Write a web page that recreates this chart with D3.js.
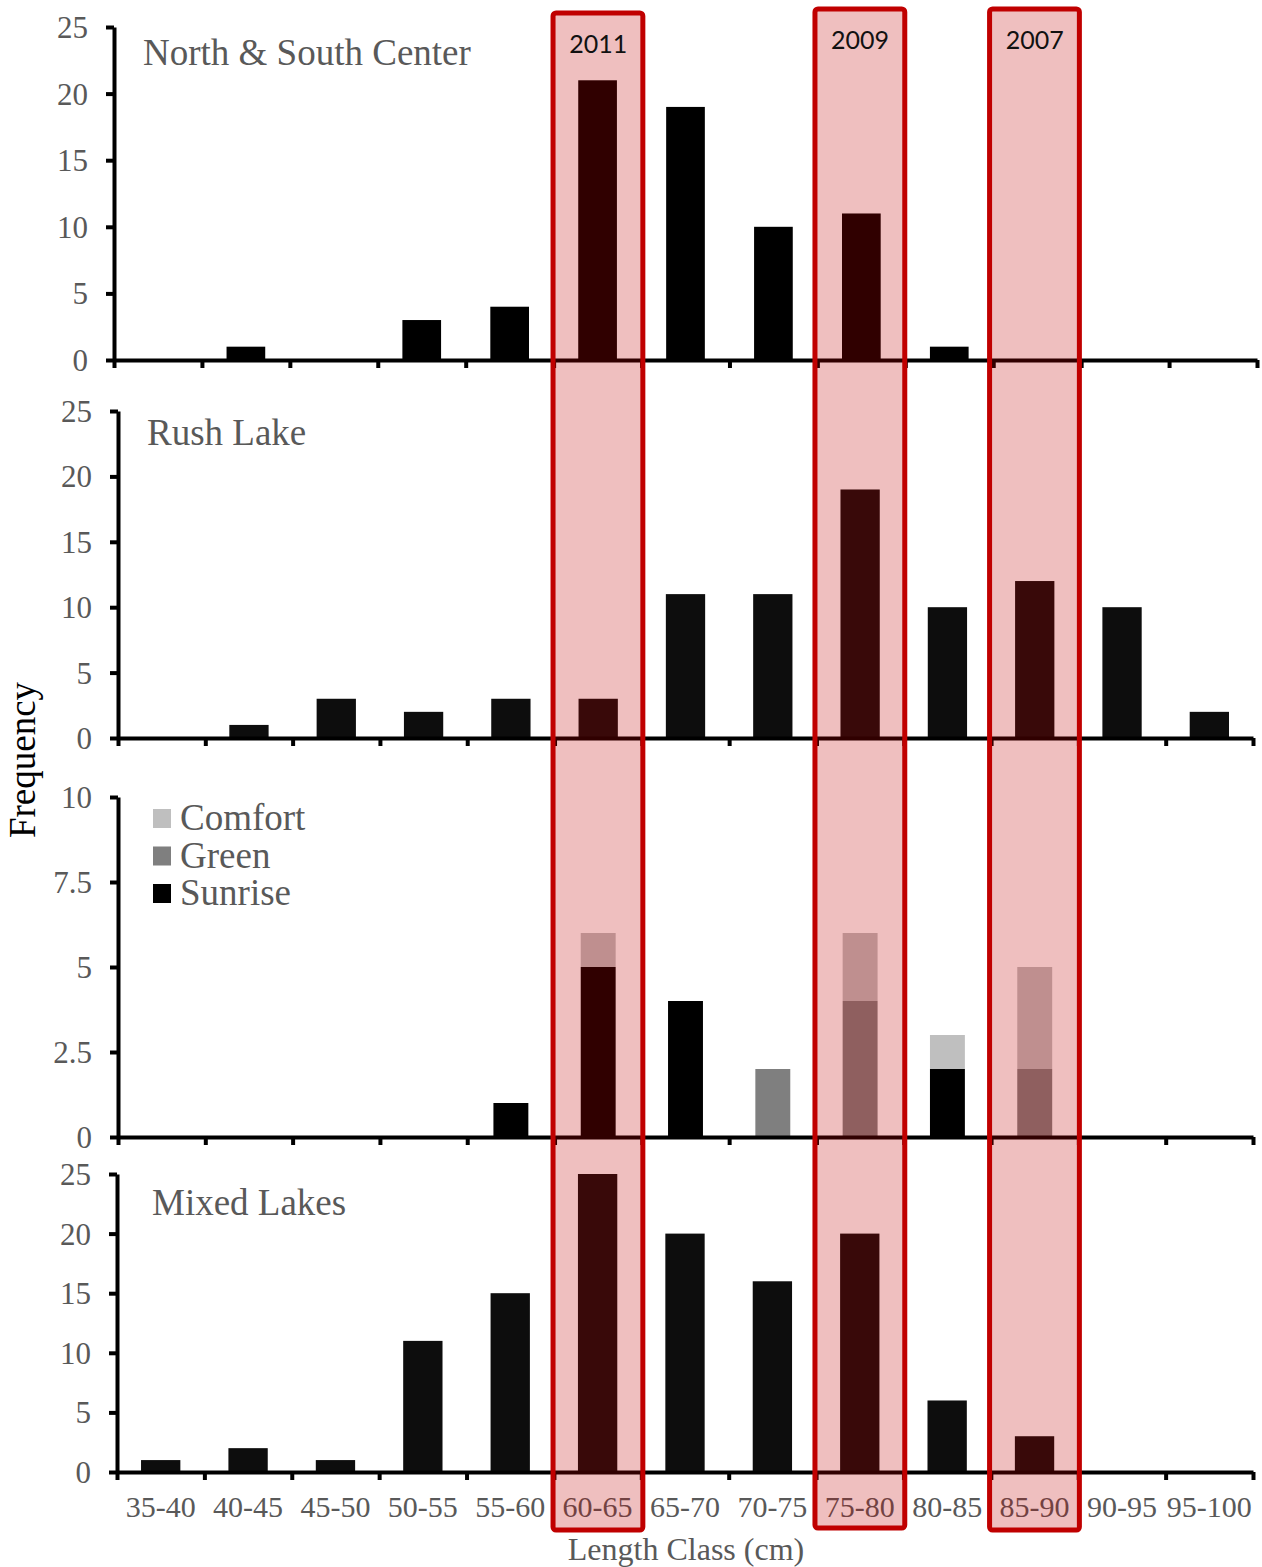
<!DOCTYPE html>
<html>
<head>
<meta charset="utf-8">
<script src="https://cdn.jsdelivr.net/npm/d3@7"></script>
<style>
    body { margin: 0; background: #fff; }
    text { font-family: "Liberation Serif", "Times New Roman", serif; }
</style>
</head>
<body>
<script>
const categories = ["35-40", "40-45", "45-50", "50-55", "55-60", "60-65", "65-70",
    "70-75", "75-80", "80-85", "85-90", "90-95", "95-100"];

const northSouth = [0, 1, 0, 3, 4, 21, 19, 10, 11, 1, 0, 0, 0];
const rushLake = [0, 1, 3, 2, 3, 3, 11, 11, 19, 10, 12, 10, 2];
const mixedLakes = [1, 2, 1, 11, 15, 25, 20, 16, 20, 6, 3, 0, 0];

// third panel, stacked by lake
const sunrise = [0, 0, 0, 0, 1, 5, 4, 0, 0, 2, 0, 0, 0];
const green = [0, 0, 0, 0, 0, 0, 0, 2, 4, 0, 2, 0, 0];
const comfort = [0, 0, 0, 0, 0, 1, 0, 0, 2, 1, 3, 0, 0];
const lakeNames = ["Comfort", "Green", "Sunrise"];

const cohortYears = ["2011", "2009", "2007"];
const cohortClasses = ["60-65", "75-80", "85-90"];

const ticks25 = [0, 5, 10, 15, 20, 25];
const ticks10 = [0, 2.5, 5, 7.5, 10];

const W = 1262, H = 1567;
const grayText = "#595959";

const svg = d3.select("body").append("svg")
    .attr("width", W)
    .attr("height", H);

const panels = [
    { title: "North & South Center", values: northSouth, left: 114, right: 1257, y0: 360, yTop: 27,
      max: 25, ticks: ticks25, tx: 143, ty: 65, pad: 0.56, fill: "#000" },
    { title: "Rush Lake", values: rushLake, left: 118, right: 1253, y0: 738, yTop: 411,
      max: 25, ticks: ticks25, tx: 147, ty: 445, pad: 0.55, fill: "#0d0d0d" },
    { title: null, values: null, left: 118, right: 1253, y0: 1137, yTop: 797,
      max: 10, ticks: ticks10, pad: 0.6 },
    { title: "Mixed Lakes", values: mixedLakes, left: 117, right: 1253, y0: 1472, yTop: 1174,
      max: 25, ticks: ticks25, tx: 152, ty: 1215, pad: 0.55, fill: "#0d0d0d" }
];

const lakeColor = d3.scaleOrdinal()
    .domain(lakeNames)
    .range(["#bfbfbf", "#7f7f7f", "#000000"]);

panels.forEach((p, pi) => {
    const g = svg.append("g");

    const x = d3.scaleBand()
        .domain(categories)
        .range([p.left, p.right])
        .paddingInner(p.pad)
        .paddingOuter(p.pad / 2);

    const y = d3.scaleLinear()
        .domain([0, p.max])
        .range([p.y0, p.yTop]);

    if (p.values) {
        g.selectAll(".bar")
            .data(p.values.map((v, i) => ({ c: categories[i], v })))
            .enter()
            .append("rect")
            .attr("class", "bar")
            .attr("x", d => x(d.c))
            .attr("width", x.bandwidth())
            .attr("y", d => y(d.v))
            .attr("height", d => y(0) - y(d.v))
            .attr("fill", p.fill);
    } else {
        const table = categories.map((c, i) => ({
            c, Sunrise: sunrise[i], Green: green[i], Comfort: comfort[i]
        }));
        const stack = d3.stack().keys(["Sunrise", "Green", "Comfort"])(table);

        g.selectAll(".layer")
            .data(stack)
            .enter()
            .append("g")
            .attr("fill", d => lakeColor(d.key))
            .selectAll("rect")
            .data(d => d.filter(s => s[1] > s[0]))
            .enter()
            .append("rect")
            .attr("x", d => x(d.data.c))
            .attr("width", x.bandwidth())
            .attr("y", d => y(d[1]))
            .attr("height", d => y(d[0]) - y(d[1]));

        // legend
        const leg = g.selectAll(".leg")
            .data(lakeNames)
            .enter()
            .append("g")
            .attr("transform", (d, i) => `translate(153, ${809 + i * 37.5})`);
        leg.append("rect")
            .attr("width", 18)
            .attr("height", 19)
            .attr("fill", d => lakeColor(d));
        leg.append("text")
            .attr("x", 27)
            .attr("y", 21)
            .attr("fill", grayText)
            .style("font-size", "37px")
            .text(d => d);
    }

    // y axis
    const yAxis = g.append("g")
        .attr("transform", `translate(${p.left},0)`)
        .call(d3.axisLeft(y)
            .tickValues(p.ticks)
            .tickSize(8)
            .tickSizeOuter(0)
            .tickPadding(18)
            .tickFormat(d => d));
    yAxis.selectAll("text")
        .attr("fill", grayText)
        .style("font-size", "31px")
        .attr("dy", "0.34em");

    // x axis with ticks on the class boundaries
    const cell = d3.scaleLinear()
        .domain([0, categories.length])
        .range([p.left, p.right]);
    g.append("g")
        .attr("transform", `translate(0,${p.y0})`)
        .call(d3.axisBottom(cell)
            .tickValues(d3.range(categories.length + 1))
            .tickSize(8)
            .tickSizeOuter(0)
            .tickFormat(""));

    g.selectAll(".domain, .tick line")
        .attr("stroke", "#000")
        .attr("stroke-width", 4);

    if (p.title) {
        g.append("text")
            .attr("x", p.tx)
            .attr("y", p.ty)
            .attr("fill", grayText)
            .style("font-size", "37px")
            .text(p.title);
    }

    // class labels under the last panel
    if (pi === panels.length - 1) {
        g.selectAll(".cat")
            .data(categories)
            .enter()
            .append("text")
            .attr("x", d => x(d) + x.bandwidth() / 2)
            .attr("y", p.y0 + 45)
            .attr("text-anchor", "middle")
            .attr("fill", grayText)
            .style("font-size", "30px")
            .text(d => d);
    }
});

svg.append("text")
    .attr("x", 686)
    .attr("y", 1560)
    .attr("text-anchor", "middle")
    .attr("fill", grayText)
    .style("font-size", "32px")
    .text("Length Class (cm)");

svg.append("text")
    .attr("transform", "translate(35,760) rotate(-90)")
    .attr("text-anchor", "middle")
    .attr("fill", "#000")
    .style("font-size", "37px")
    .text("Frequency");

// cohort highlight boxes, drawn on top of everything
const boxX = d3.scaleBand()
    .domain(categories)
    .range([118, 1253]);
const boxTop = [13, 9, 9];
const boxBottom = [1530, 1528, 1530];

const boxes = svg.append("g")
    .selectAll("g")
    .data(cohortYears.map((yr, i) => ({ yr, c: cohortClasses[i], top: boxTop[i], bottom: boxBottom[i] })))
    .enter()
    .append("g");

boxes.append("rect")
    .attr("x", d => boxX(d.c) - 1.5)
    .attr("width", boxX.bandwidth() + 2.5)
    .attr("y", d => d.top)
    .attr("height", d => d.bottom - d.top)
    .attr("rx", 3)
    .attr("fill", "rgba(192,0,0,0.25)")
    .attr("stroke", "#c00000")
    .attr("stroke-width", 5);

boxes.append("text")
    .attr("x", d => boxX(d.c) + boxX.bandwidth() / 2)
    .attr("y", d => d.top + 40)
    .attr("text-anchor", "middle")
    .attr("fill", "#111")
    .style("font-family", "Lato, 'Open Sans', sans-serif")
    .style("font-size", "25px")
    .text(d => d.yr);
</script>
</body>
</html>
